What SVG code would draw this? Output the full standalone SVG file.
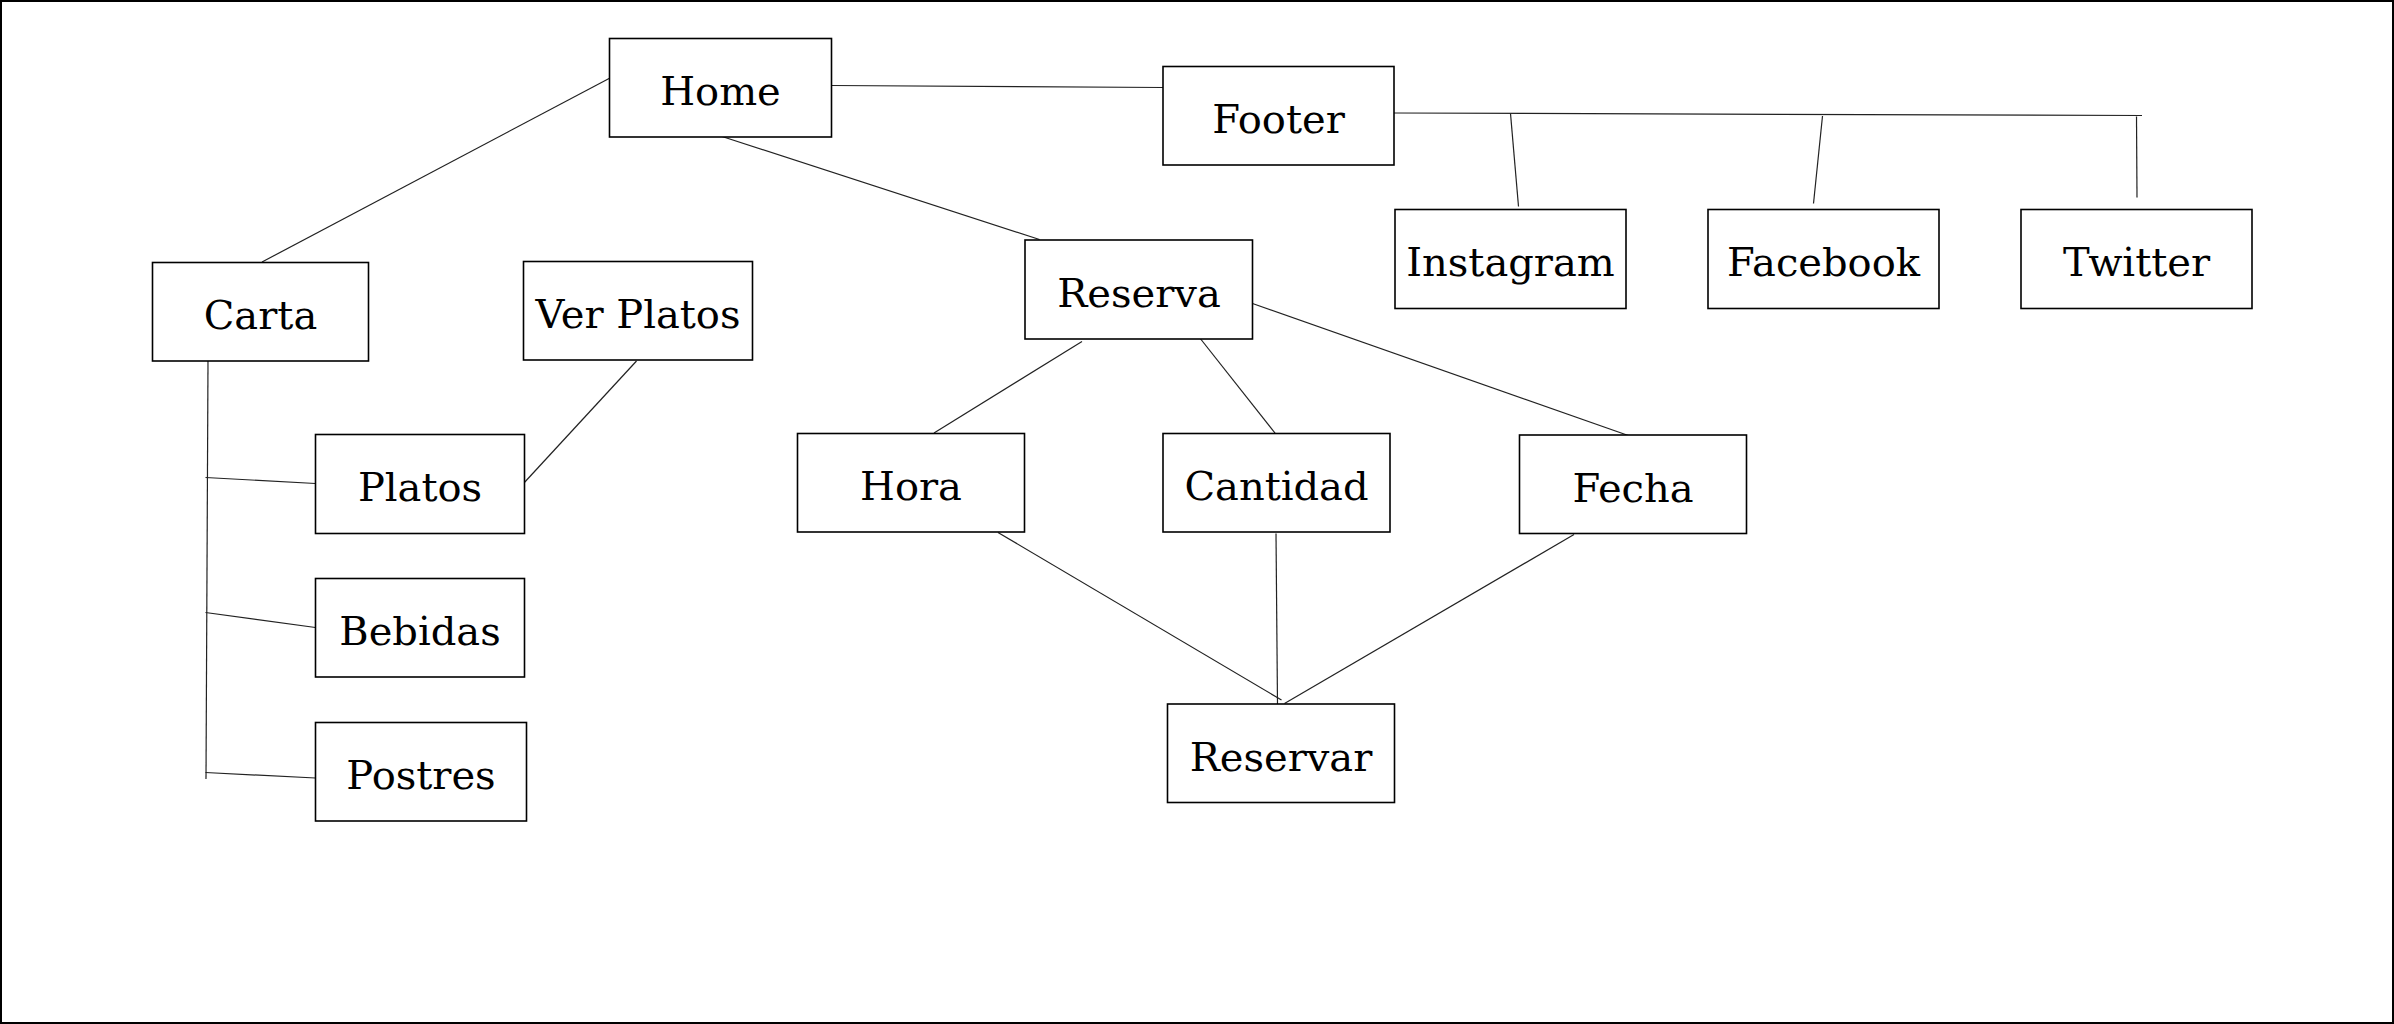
<svg xmlns="http://www.w3.org/2000/svg" width="2394" height="1024" viewBox="0 0 2394 1024">
<style>
.box{fill:#fff;stroke:#000;stroke-width:1.6}
.lbl{font-family:"DejaVu Serif","Liberation Serif",serif;font-size:40px;fill:#000;text-anchor:middle}
.conn line{stroke:#222;stroke-width:1.2;fill:none}
</style>
<rect x="0" y="0" width="2394" height="1024" fill="#fff"/>
<rect x="1" y="1" width="2392" height="1022" fill="none" stroke="#000" stroke-width="2"/>
<g id="connectors" class="conn">
<line x1="610" y1="78" x2="262" y2="262"/>
<line x1="832" y1="85.5" x2="1163" y2="87.5"/>
<line x1="720.5" y1="136" x2="1039.5" y2="239.5"/>
<line x1="1394" y1="113" x2="2142" y2="115.5"/>
<line x1="1510.5" y1="113.5" x2="1518.5" y2="206.5"/>
<line x1="1822.5" y1="116" x2="1813.5" y2="203.5"/>
<line x1="2136.5" y1="116.5" x2="2137" y2="197.5"/>
<line x1="208" y1="361" x2="206" y2="779"/>
<line x1="205.5" y1="477.5" x2="315.5" y2="483.5"/>
<line x1="205.5" y1="612.5" x2="315.5" y2="627.5"/>
<line x1="205.5" y1="772.5" x2="315.5" y2="778"/>
<line x1="636.5" y1="361" x2="523" y2="484"/>
<line x1="1082" y1="341.5" x2="934" y2="433"/>
<line x1="1197.5" y1="335" x2="1278.5" y2="437.5"/>
<line x1="1252.5" y1="303.5" x2="1634" y2="437.5"/>
<line x1="998" y1="532.5" x2="1281.5" y2="700"/>
<line x1="1276" y1="533.5" x2="1277.5" y2="705"/>
<line x1="1574" y1="534.5" x2="1284.5" y2="703.5"/>
</g>
<g id="home"><rect class="box" x="609.5" y="38.5" width="222" height="98.5"/><text class="lbl" x="720.5" y="105">Home</text></g>
<g id="footer"><rect class="box" x="1163" y="66.5" width="231" height="98.5"/><text class="lbl" x="1278.5" y="133">Footer</text></g>
<g id="instagram"><rect class="box" x="1395" y="209.5" width="231" height="99"/><text class="lbl" x="1510.5" y="276">Instagram</text></g>
<g id="facebook"><rect class="box" x="1708" y="209.5" width="231" height="99"/><text class="lbl" x="1823.5" y="276">Facebook</text></g>
<g id="twitter"><rect class="box" x="2021" y="209.5" width="231" height="99"/><text class="lbl" x="2136.5" y="276">Twitter</text></g>
<g id="carta"><rect class="box" x="152.5" y="262.5" width="216" height="98.5"/><text class="lbl" x="260.5" y="329">Carta</text></g>
<g id="ver-platos"><rect class="box" x="523.5" y="261.5" width="229" height="98.5"/><text class="lbl" x="638" y="328">Ver Platos</text></g>
<g id="reserva"><rect class="box" x="1025" y="240" width="227.5" height="99"/><text class="lbl" x="1139" y="307">Reserva</text></g>
<g id="platos"><rect class="box" x="315.5" y="434.5" width="209" height="99"/><text class="lbl" x="420" y="501">Platos</text></g>
<g id="bebidas"><rect class="box" x="315.5" y="578.5" width="209" height="98.5"/><text class="lbl" x="420" y="645">Bebidas</text></g>
<g id="postres"><rect class="box" x="315.5" y="722.5" width="211" height="98.5"/><text class="lbl" x="421" y="789">Postres</text></g>
<g id="hora"><rect class="box" x="797.5" y="433.5" width="227" height="98.5"/><text class="lbl" x="911" y="500">Hora</text></g>
<g id="cantidad"><rect class="box" x="1163" y="433.5" width="227" height="98.5"/><text class="lbl" x="1276.5" y="500">Cantidad</text></g>
<g id="fecha"><rect class="box" x="1519.5" y="435" width="227" height="98.5"/><text class="lbl" x="1633" y="502">Fecha</text></g>
<g id="reservar"><rect class="box" x="1167.5" y="704" width="227" height="98.5"/><text class="lbl" x="1281" y="771">Reservar</text></g>
</svg>
